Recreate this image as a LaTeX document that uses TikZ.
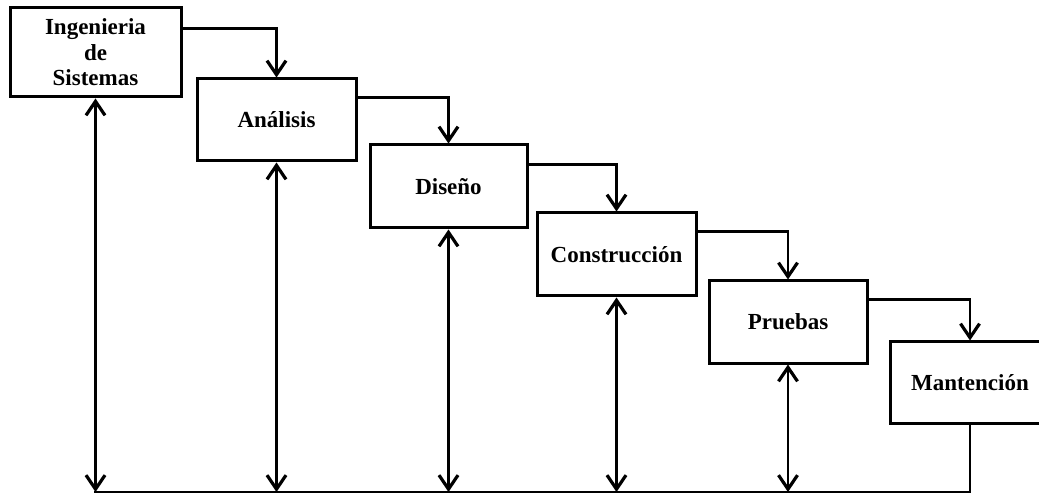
\documentclass[tikz,border=0pt]{standalone}
\usepackage{fontspec}
\setmainfont{Liberation Serif}
\usetikzlibrary{arrows.meta}
\begin{document}
\begin{tikzpicture}[x=1pt,y=-1pt,
  phase/.style={draw,line width=3pt,rectangle,inner sep=0pt,fill=white,
    font=\bfseries\fontsize{23}{25.5}\selectfont,align=center},
  tip/.style={Straight Barb[length=14pt,width=19pt,line width=3.2pt]},
  flow/.style={line width=2.9pt,-{Straight Barb[length=14pt,width=19pt,line width=3.2pt]}},
  both/.style={line width=2.9pt,{Straight Barb[length=14pt,width=19pt,line width=3.2pt]}-{Straight Barb[length=14pt,width=19pt,line width=3.2pt]}},
  link/.style={line width=2.9pt}]
\useasboundingbox (0,0) rectangle (1039,494);
\fill[white] (0,0) rectangle (1039,494);
\coordinate (base) at (0,492);

% phases of the cascade
\node[phase,minimum width=171pt,minimum height=89pt] (b1) at (95.5,52.5) {Ingenieria\\de\\Sistemas};
\node[phase,minimum width=159pt,minimum height=82pt] (b2) at (276.5,120) {Análisis};
\node[phase,minimum width=157pt,minimum height=83pt] (b3) at (448.5,186.5) {Diseño};
\node[phase,minimum width=159pt,minimum height=83pt] (b4) at (616.5,254.5) {Construcción};
\node[phase,minimum width=158pt,minimum height=82pt] (b5) at (788,322) {Pruebas};
\node[phase,minimum width=160pt,minimum height=81pt] (b6) at (970,382.5) {Mantención};

% forward flow between phases
\draw[flow] ([yshift=-22pt]b1.north east) -| (b2.north);
\draw[flow] ([yshift=-20pt]b2.north east) -| (b3.north);
\draw[flow] ([yshift=-21pt]b3.north east) -| (b4.north);
\draw[flow] ([yshift=-20pt]b4.north east) -| (b5.north);
\draw[flow] ([yshift=-20pt]b5.north east) -| (b6.north);

% feedback bus along the bottom
\draw[link] (b6.south) -- (b6.south |- base) -- ([xshift=-1.4pt]b1.south |- base);
\draw[both] (b1.south |- base) -- (b1.south);
\draw[both] (b2.south |- base) -- (b2.south);
\draw[both] (b3.south |- base) -- (b3.south);
\draw[both] (b4.south |- base) -- (b4.south);
\draw[both] (b5.south |- base) -- (b5.south);
\end{tikzpicture}
\end{document}
